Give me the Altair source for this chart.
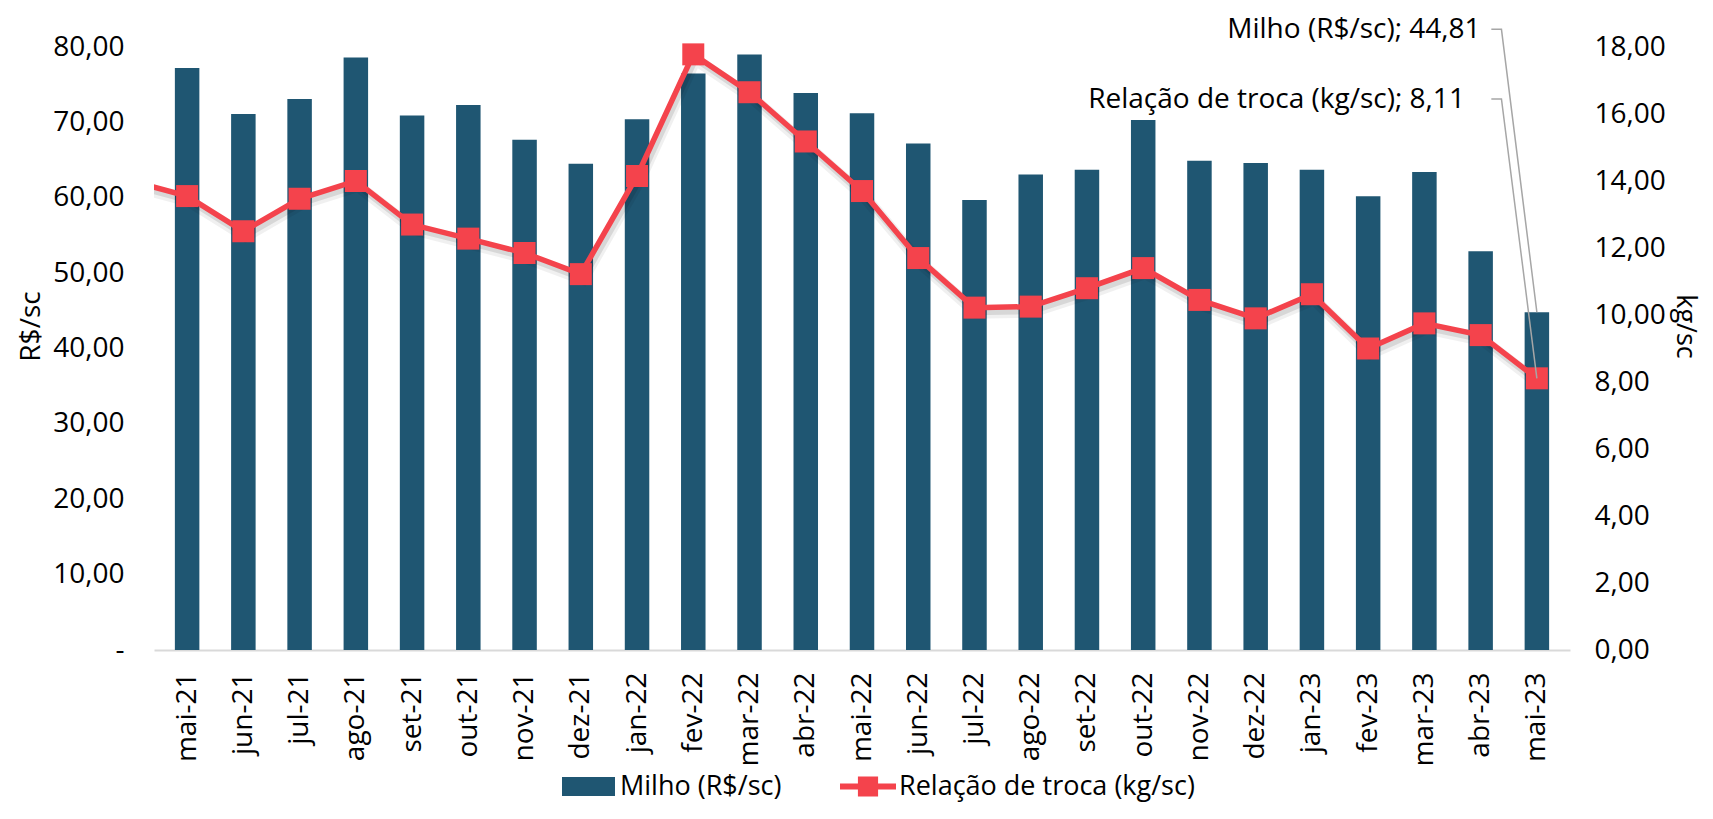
import json
import altair as alt
import pandas as pd

# ---------------- data ----------------
months = ["mai-21", "jun-21", "jul-21", "ago-21", "set-21", "out-21", "nov-21", "dez-21",
          "jan-22", "fev-22", "mar-22", "abr-22", "mai-22", "jun-22", "jul-22", "ago-22",
          "set-22", "out-22", "nov-22", "dez-22", "jan-23", "fev-23", "mar-23", "abr-23", "mai-23"]
milho = [77.2, 71.1, 73.1, 78.6, 70.9, 72.3, 67.7, 64.5,
         70.4, 76.5, 79.0, 73.9, 71.2, 67.2, 59.7, 63.1,
         63.7, 70.3, 64.9, 64.6, 63.7, 60.2, 63.4, 52.9, 44.81]
relacao = [13.55, 12.50, 13.47, 14.00, 12.70, 12.28, 11.85, 11.22,
           14.15, 17.78, 16.65, 15.18, 13.70, 11.70, 10.22, 10.25,
           10.80, 11.40, 10.45, 9.90, 10.62, 9.00, 9.75, 9.40, 8.11]
# previous month (abr-21) only shows as the line entering from the left edge
prev_month = "abr-21"
prev_relacao = 14.0

left_ticks = [0, 10, 20, 30, 40, 50, 60, 70, 80]
right_ticks = [0, 2, 4, 6, 8, 10, 12, 14, 16, 18]

serie_milho = "Milho (R$/sc)"
serie_rel = "Relação de troca (kg/sc)"

# annotation anchors (in data units)
milho_label_pos, milho_label_v = 23.5, 82.2
rel_label_pos, rel_label_r = 23.22, 16.42
leader_pos = [23.69, 23.87, 24.5]
milho_leader_v = [82.35, 82.35, milho[-1]]
rel_leader_r = [16.45, 16.45, relacao[-1]]

# ---------------- styling ----------------
FONT = "Open Sans"
BLUE = "#1F5672"
RED = "#F4434C"
GREY = "#A6A6A6"
FS = 28

n = len(months)
pos = [i + 0.5 for i in range(n)]

df_bar = pd.DataFrame({"pos": pos, "v": milho, "serie": serie_milho, "mes": months})
df_line = pd.DataFrame({"pos": [-0.5] + pos, "r": [prev_relacao] + relacao})
df_pts = pd.DataFrame({"pos": pos, "r": relacao, "serie": serie_rel, "mes": months})

fmt = lambda x: f"{x:.2f}".replace(".", ",")
df_milho_lab = pd.DataFrame({"pos": [milho_label_pos], "v": [milho_label_v],
                             "txt": [f"{serie_milho}; {fmt(milho[-1])}"]})
df_rel_lab = pd.DataFrame({"pos": [rel_label_pos], "r": [rel_label_r],
                           "txt": [f"{serie_rel}; {fmt(relacao[-1])}"]})
df_milho_lead = pd.DataFrame({"pos": leader_pos, "v": milho_leader_v})
df_rel_lead = pd.DataFrame({"pos": leader_pos, "r": rel_leader_r})

month_js = json.dumps(months)


def X():
    return alt.X(
        "pos:Q",
        scale=alt.Scale(domain=[0, n], nice=False, zero=False),
        axis=alt.Axis(
            values=pos, labelExpr=f"{month_js}[floor(datum.value)]",
            title=None, grid=False, ticks=False,
            domainColor="#D9D9D9", domainWidth=2,
            labelAngle=270, labelAlign="right", labelBaseline="middle",
            labelPadding=22, labelFontSize=FS, labelFont=FONT, labelColor="black",
            labelOverlap=False, labelFlush=False, labelBound=False,
        ),
    )


def YL():
    return alt.Y(
        "v:Q",
        scale=alt.Scale(domain=[0, 80], nice=False),
        axis=alt.Axis(
            orient="left", values=left_ticks,
            labelExpr="datum.value == 0 ? '-' : replace(format(datum.value, '.2f'), '.', ',')",
            grid=False, ticks=False, domain=False,
            labelPadding=30, labelFontSize=FS, labelFont=FONT, labelColor="black",
            title="R$/sc", titleFont=FONT, titleFontSize=FS, titleFontWeight="normal",
            titleColor="black", titleAngle=270, titleAlign="center", titleBaseline="middle",
            titleX=-123, titleY=279,
        ),
    )


def YR():
    return alt.Y(
        "r:Q",
        scale=alt.Scale(domain=[0, 18], nice=False),
        axis=alt.Axis(
            orient="right", values=right_ticks,
            labelExpr="replace(format(datum.value, '.2f'), '.', ',')",
            grid=False, ticks=False, domain=False,
            labelPadding=24, labelFontSize=FS, labelFont=FONT, labelColor="black",
            title="kg/sc", titleFont=FONT, titleFontSize=27, titleFontWeight="normal",
            titleColor="black", titleAngle=90, titleAlign="center", titleBaseline="middle",
            titleX=114, titleY=279,
        ),
    )


LEG_FS = 27

bars = alt.Chart(df_bar).mark_bar(size=24.5).encode(
    x=X(), y=YL(),
    color=alt.Color(
        "serie:N",
        scale=alt.Scale(domain=[serie_milho], range=[BLUE]),
        legend=alt.Legend(
            title=None, orient="none", legendX=408, legendY=713,
            symbolType="M-1,-0.36H1V0.36H-1Z", symbolSize=2809, symbolStrokeWidth=0,
            symbolOpacity=1, labelFont=FONT, labelFontSize=LEG_FS, labelColor="black",
            labelOffset=5, labelLimit=400,
        ),
    ),
)

milho_lead = alt.Chart(df_milho_lead).mark_line(color=GREY, strokeWidth=1.5).encode(x=X(), y=YL())
milho_lab = alt.Chart(df_milho_lab).mark_text(
    align="right", baseline="middle", font=FONT, fontSize=FS, color="black"
).encode(x=X(), y=YL(), text="txt:N")

left = alt.layer(bars, milho_lead, milho_lab)

shadow1 = alt.Chart(df_line).mark_line(
    color="black", opacity=0.06, strokeWidth=12, clip=True, xOffset=2, yOffset=5
).encode(x=X(), y=YR())
shadow2 = alt.Chart(df_line).mark_line(
    color="black", opacity=0.10, strokeWidth=7, clip=True, xOffset=2, yOffset=4
).encode(x=X(), y=YR())
line = alt.Chart(df_line).mark_line(color=RED, strokeWidth=5.5, clip=True).encode(x=X(), y=YR())
pts = alt.Chart(df_pts).mark_point(shape="square", filled=True, size=484, opacity=1).encode(
    x=X(), y=YR(),
    color=alt.Color(
        "serie:N",
        scale=alt.Scale(domain=[serie_rel], range=[RED]),
        legend=alt.Legend(
            title=None, orient="none", legendX=686, legendY=711.5,
            symbolType="M-1,-0.11H-0.36V-0.36H0.36V-0.11H1V0.11H0.36V0.36H-0.36V0.11H-1Z",
            symbolSize=3136, symbolStrokeWidth=0, symbolOpacity=1,
            labelFont=FONT, labelFontSize=LEG_FS, labelColor="black",
            labelOffset=3, labelLimit=500,
        ),
    ),
)
rel_lead = alt.Chart(df_rel_lead).mark_line(color=GREY, strokeWidth=1.5).encode(x=X(), y=YR())
rel_lab = alt.Chart(df_rel_lab).mark_text(
    align="right", baseline="middle", font=FONT, fontSize=FS, color="black"
).encode(x=X(), y=YR(), text="txt:N")

right = alt.layer(shadow1, shadow2, line, pts, rel_lead, rel_lab)

chart = (
    alt.layer(left, right)
    .resolve_scale(y="independent", color="independent")
    .properties(
        width=1416, height=603,
        autosize=alt.AutoSizeParams(type="none"),
        padding={"left": 146, "top": 39, "right": 135, "bottom": 156},
        background="white",
    )
    .configure(font=FONT)
    .configure_view(stroke=None)
)

chart.save("out.html", embed_options={"renderer": "svg", "actions": False})
